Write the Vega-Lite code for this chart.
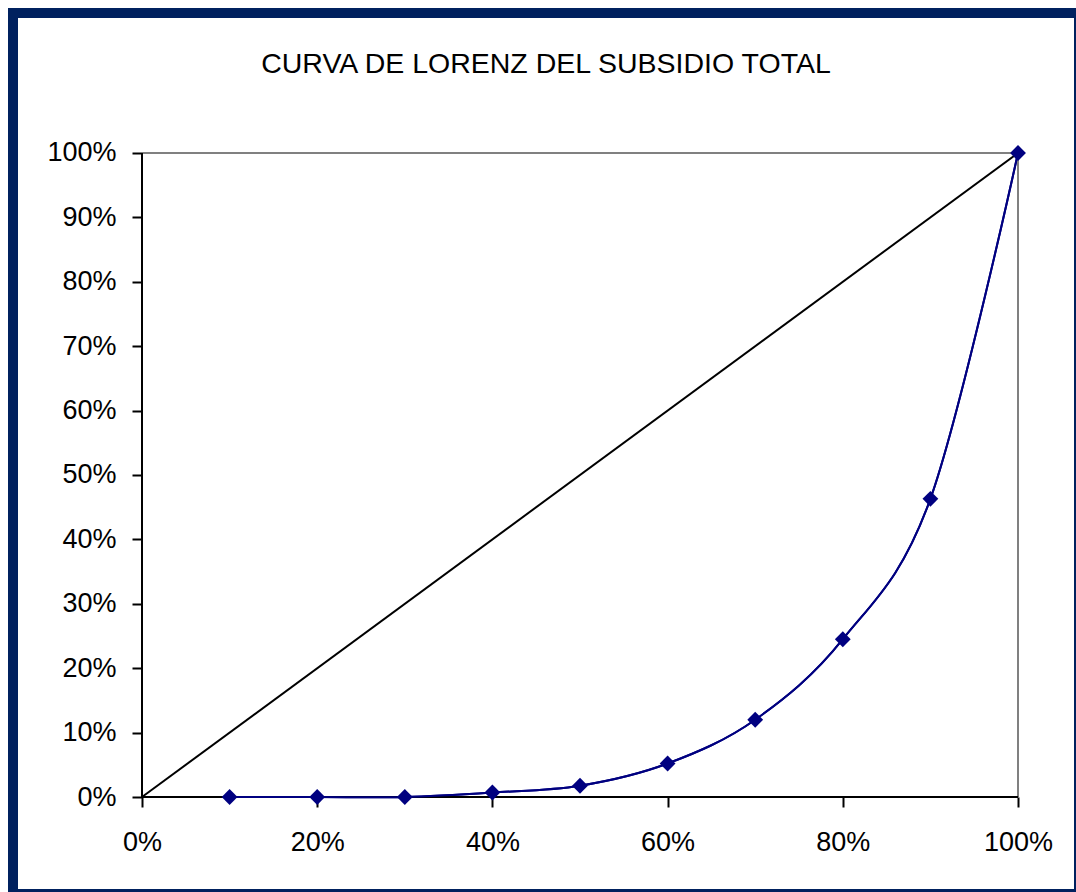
{
  "$schema": "https://vega.github.io/schema/vega-lite/v6.json",
  "autosize": {"type": "none"},
  "width": 1066,
  "height": 881,
  "padding": {"left": 13, "top": 13, "right": 0, "bottom": 0},
  "background": "white",
  "config": {
    "font": "Liberation Sans",
    "view": {"fill": "white", "stroke": "#00215F", "strokeWidth": 10}
  },
  "title": {
    "text": "CURVA DE LORENZ DEL SUBSIDIO TOTAL",
    "font": "Liberation Sans",
    "fontSize": 28.5,
    "fontWeight": "normal",
    "color": "black",
    "anchor": "middle",
    "offset": -65
  },
  "datasets": {
    "equality": [
      {"poblacion": 0, "subsidio": 0},
      {"poblacion": 1, "subsidio": 1}
    ],
    "lorenz": [
      {"poblacion": 0.1, "subsidio": 0},
      {"poblacion": 0.2, "subsidio": 0},
      {"poblacion": 0.3, "subsidio": 0},
      {"poblacion": 0.4, "subsidio": 0.007},
      {"poblacion": 0.5, "subsidio": 0.0175},
      {"poblacion": 0.6, "subsidio": 0.052},
      {"poblacion": 0.7, "subsidio": 0.12},
      {"poblacion": 0.8, "subsidio": 0.245},
      {"poblacion": 0.9, "subsidio": 0.463},
      {"poblacion": 1.0, "subsidio": 1.0}
    ]
  },
  "layer": [
    {
      "data": {"name": "lorenz"},
      "mark": {"type": "line", "color": "#000080", "strokeWidth": 2, "interpolate": "cardinal"},
      "encoding": {
        "x": {
          "field": "poblacion", "type": "quantitative", "title": null,
          "scale": {"domain": [-0.14726, 1.06963], "nice": false, "zero": false},
          "axis": {
            "orient": "bottom", "offset": -97, "title": null,
            "values": [0, 0.2, 0.4, 0.6, 0.8, 1], "format": ".0%",
            "domain": false, "grid": false,
            "tickSize": 10, "tickWidth": 2, "tickColor": "black",
            "labelFont": "Liberation Sans", "labelFontSize": 27, "labelColor": "black",
            "labelPadding": 22, "labelFlush": false, "labelOverlap": false
          }
        },
        "y": {
          "field": "subsidio", "type": "quantitative", "title": null,
          "scale": {"domain": [-0.15062, 1.21739], "nice": false, "zero": false},
          "axis": {
            "orient": "left", "offset": -129, "title": null,
            "values": [0, 0.1, 0.2, 0.3, 0.4, 0.5, 0.6, 0.7, 0.8, 0.9, 1], "format": ".0%",
            "domain": false, "grid": false,
            "tickSize": 10, "tickWidth": 2, "tickColor": "black",
            "labelFont": "Liberation Sans", "labelFontSize": 27, "labelColor": "black",
            "labelPadding": 16, "labelFlush": false, "labelOverlap": false
          }
        }
      }
    },
    {
      "data": {"name": "lorenz"},
      "mark": {"type": "rule", "color": "#808080", "strokeWidth": 2},
      "encoding": {
        "x": {"datum": 0, "type": "quantitative", "title": null},
        "x2": {"datum": 1},
        "y": {"datum": 1, "type": "quantitative", "title": null}
      }
    },
    {
      "data": {"name": "lorenz"},
      "mark": {"type": "rule", "color": "#808080", "strokeWidth": 2},
      "encoding": {
        "x": {"datum": 1, "type": "quantitative", "title": null},
        "y": {"datum": 0, "type": "quantitative", "title": null},
        "y2": {"datum": 1}
      }
    },
    {
      "data": {"name": "lorenz"},
      "mark": {"type": "rule", "color": "black", "strokeWidth": 2},
      "encoding": {
        "x": {"datum": 0, "type": "quantitative", "title": null},
        "y": {"datum": 0, "type": "quantitative", "title": null},
        "y2": {"datum": 1}
      }
    },
    {
      "data": {"name": "lorenz"},
      "mark": {"type": "rule", "color": "black", "strokeWidth": 2},
      "encoding": {
        "x": {"datum": 0, "type": "quantitative", "title": null},
        "x2": {"datum": 1},
        "y": {"datum": 0, "type": "quantitative", "title": null}
      }
    },
    {
      "data": {"name": "equality"},
      "mark": {"type": "line", "color": "black", "strokeWidth": 2},
      "encoding": {
        "x": {"field": "poblacion", "type": "quantitative", "title": null},
        "y": {"field": "subsidio", "type": "quantitative", "title": null}
      }
    },
    {
      "data": {"name": "lorenz"},
      "mark": {"type": "line", "color": "#000080", "strokeWidth": 2, "interpolate": "cardinal"},
      "encoding": {
        "x": {"field": "poblacion", "type": "quantitative", "title": null},
        "y": {"field": "subsidio", "type": "quantitative", "title": null}
      }
    },
    {
      "data": {"name": "lorenz"},
      "mark": {"type": "point", "shape": "diamond", "filled": true, "color": "#000080", "size": 250, "opacity": 1},
      "encoding": {
        "x": {"field": "poblacion", "type": "quantitative", "title": null},
        "y": {"field": "subsidio", "type": "quantitative", "title": null}
      }
    }
  ]
}
